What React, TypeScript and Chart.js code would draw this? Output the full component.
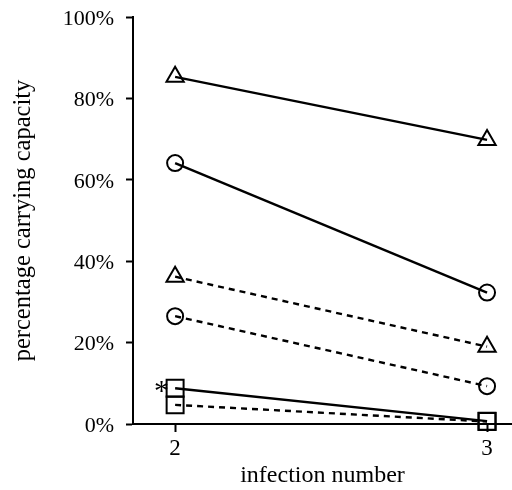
import React, { useEffect, useRef } from "react";
import { Chart, registerables } from "chart.js";

Chart.register(...registerables);

const infections = [2, 3];
const xTickValues = [2, 3];
const yTickValues = [0, 20, 40, 60, 80, 100];

const solidTriangle = [85.3, 69.8];
const solidCircle = [64.1, 32.3];
const dashedTriangle = [36.2, 19.0];
const dashedCircle = [26.5, 9.3];
const solidSquare = [8.8, 0.7];
const dashedSquare = [4.7, 0.6];

const asteriskLabel = "*";
const asteriskSeriesIndex = 4;

const FONT = "'Liberation Serif', 'Times New Roman', serif";

const toPoints = (vals: number[]) => vals.map((v, i) => ({ x: infections[i], y: v }));

const series = [
  { label: "solid triangle", data: solidTriangle, style: "triangle", dashed: false, radius: 10 },
  { label: "solid circle", data: solidCircle, style: "circle", dashed: false, radius: 8 },
  { label: "dashed triangle", data: dashedTriangle, style: "triangle", dashed: true, radius: 10 },
  { label: "dashed circle", data: dashedCircle, style: "circle", dashed: true, radius: 8 },
  { label: "solid square", data: solidSquare, style: "rect", dashed: false, radius: 12 },
  { label: "dashed square", data: dashedSquare, style: "rect", dashed: true, radius: 12 },
];

const asteriskPlugin = {
  id: "asterisk",
  afterDatasetsDraw(chart: any) {
    const meta = chart.getDatasetMeta(asteriskSeriesIndex);
    const pt = meta.data[0];
    if (!pt) return;
    const ctx = chart.ctx;
    ctx.save();
    ctx.fillStyle = "#000";
    ctx.font = `30px ${FONT}`;
    ctx.textAlign = "right";
    ctx.textBaseline = "middle";
    ctx.fillText(asteriskLabel, pt.x - 6, pt.y + 4);
    ctx.restore();
  },
};

export default function App() {
  const ref = useRef<HTMLCanvasElement | null>(null);
  useEffect(() => {
    document.body.style.margin = "0";
    if (!ref.current) return;
    const chart = new Chart(ref.current, {
      type: "line",
      data: {
        datasets: series.map((s) => ({
          label: s.label,
          data: toPoints(s.data),
          borderColor: "#000",
          backgroundColor: "transparent",
          borderWidth: 2.4,
          borderDash: s.dashed ? [6, 5] : [],
          pointStyle: s.style as any,
          pointRadius: s.radius,
          pointHoverRadius: s.radius,
          pointBorderColor: "#000",
          pointBackgroundColor: "rgba(0,0,0,0)",
          pointBorderWidth: 2,
          fill: false,
          tension: 0,
          clip: false as any,
        })),
      },
      options: {
        animation: false,
        responsive: true,
        maintainAspectRatio: false,
        layout: { autoPadding: false, padding: { top: 17, right: 0, left: 0, bottom: 0 } },
        plugins: { legend: { display: false }, tooltip: { enabled: false } },
        scales: {
          x: {
            type: "linear",
            min: 1.865,
            max: 3.08,
            afterFit: (scale: any) => {
              scale.height = 66;
              scale.paddingLeft = 0;
              scale.paddingRight = 0;
            },
            afterBuildTicks: (scale: any) => {
              scale.ticks = xTickValues.map((v) => ({ value: v }));
            },
            grid: {
              drawOnChartArea: false,
              drawTicks: true,
              tickLength: 8,
              tickColor: "#000",
              tickWidth: 2,
            },
            border: { color: "#000", width: 2 },
            ticks: {
              color: "#000",
              font: { family: FONT, size: 23 },
              padding: 3,
              maxRotation: 0,
              callback: (v: any) => String(v),
            },
            title: {
              display: true,
              text: "infection number",
              color: "#000",
              font: { family: FONT, size: 24 },
              padding: { top: 0, bottom: 0 },
            },
          },
          y: {
            min: 0,
            max: 100,
            afterFit: (scale: any) => {
              scale.width = 133;
              scale.paddingTop = 0;
              scale.paddingBottom = 0;
            },
            afterBuildTicks: (scale: any) => {
              scale.ticks = yTickValues.map((v) => ({ value: v }));
            },
            grid: {
              drawOnChartArea: false,
              drawTicks: true,
              tickLength: 7,
              tickColor: "#000",
              tickWidth: 2,
            },
            border: { color: "#000", width: 2 },
            ticks: {
              color: "#000",
              font: { family: FONT, size: 22 },
              padding: 12,
              labelOffset: 2,
              callback: (v: any) => `${v}%`,
            },
            title: {
              display: true,
              text: "percentage carrying capacity",
              color: "#000",
              font: { family: FONT, size: 24.5 },
              padding: { top: 9, bottom: 0 },
            },
          },
        },
      },
      plugins: [asteriskPlugin],
    });
    return () => chart.destroy();
  }, []);
  return (
    <div style={{ position: "fixed", left: 0, top: 0, width: 512, height: 490 }}>
      <canvas ref={ref} />
    </div>
  );
}
